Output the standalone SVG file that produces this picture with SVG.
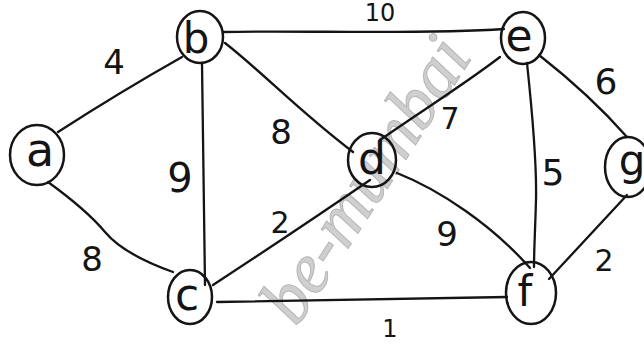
<svg xmlns="http://www.w3.org/2000/svg" width="644" height="344" viewBox="0 0 644 344">
<style>
.edge{fill:none;stroke:#141414;stroke-width:2.3;stroke-linecap:round}
.node ellipse{fill:none;stroke:#141414;stroke-width:2.5}
.lbl{font-family:"DejaVu Sans","Liberation Sans",sans-serif;fill:#141414;text-anchor:middle;dominant-baseline:central}
.w{font-family:"Liberation Serif",serif;font-style:italic;fill:#cfcfcf;stroke:#b5b5b5;stroke-width:1;text-anchor:middle}
</style>
<rect width="644" height="344" fill="#ffffff"/>
<text class="w" font-size="72" transform="translate(385,192) rotate(-57)">be-mumbai</text>
<g id="connectors">
<path class="edge" d="M58,132 Q120,92 182,57"/>
<path class="edge" d="M223,32 C300,30 420,35 504,29"/>
<path class="edge" d="M225,43 C260,70 300,112 353,152"/>
<path class="edge" d="M202,63 C203,150 204,220 205,285"/>
<path class="edge" d="M48,182 C70,198 90,214 105,232 C120,250 145,262 173,272"/>
<path class="edge" d="M213,285 Q300,228 370,180"/>
<path class="edge" d="M217,302 C320,300 420,298 507,297"/>
<path class="edge" d="M380,140 C420,112 462,86 500,57"/>
<path class="edge" d="M397,173 C440,190 492,225 530,268"/>
<path class="edge" d="M527,63 C532,110 537,160 536,200 C535,235 534,250 534,267"/>
<path class="edge" d="M539,55 Q590,95 627,137"/>
<path class="edge" d="M549,279 Q590,235 627,195"/>
<text class="lbl" x="114" y="62" font-size="34">4</text>
<text class="lbl" x="380" y="13" font-size="24">10</text>
<text class="lbl" x="281" y="132" font-size="34">8</text>
<text class="lbl" x="180" y="178" font-size="40">9</text>
<text class="lbl" x="280" y="222" font-size="30">2</text>
<text class="lbl" x="92" y="259" font-size="34">8</text>
<text class="lbl" x="450" y="118" font-size="30">7</text>
<text class="lbl" x="606" y="81" font-size="36">6</text>
<text class="lbl" x="553" y="172" font-size="36">5</text>
<text class="lbl" x="447" y="234" font-size="34">9</text>
<text class="lbl" x="604" y="260" font-size="30">2</text>
<text class="lbl" x="390" y="329" font-size="24">1</text>
</g>
<g id="node-a" class="node"><ellipse cx="37" cy="155" rx="27" ry="30"/><text class="lbl" x="40" y="150" font-size="46">a</text></g>
<g id="node-b" class="node"><ellipse cx="200" cy="37" rx="23" ry="26"/><text class="lbl" x="196" y="38" font-size="42">b</text></g>
<g id="node-c" class="node"><ellipse cx="190" cy="297" rx="22" ry="27"/><text class="lbl" x="187" y="294" font-size="44">c</text></g>
<g id="node-d" class="node"><ellipse cx="372" cy="160" rx="24" ry="27"/><text class="lbl" x="372" y="158" font-size="44">d</text></g>
<g id="node-e" class="node"><ellipse cx="523" cy="38" rx="22" ry="26"/><text class="lbl" x="519" y="35" font-size="44">e</text></g>
<g id="node-f" class="node"><ellipse cx="531" cy="293" rx="25" ry="31"/><text class="lbl" x="525" y="291" font-size="42">f</text></g>
<g id="node-g" class="node"><ellipse cx="628" cy="167" rx="23" ry="30"/><text class="lbl" x="632" y="160" font-size="42">g</text></g>
</svg>
